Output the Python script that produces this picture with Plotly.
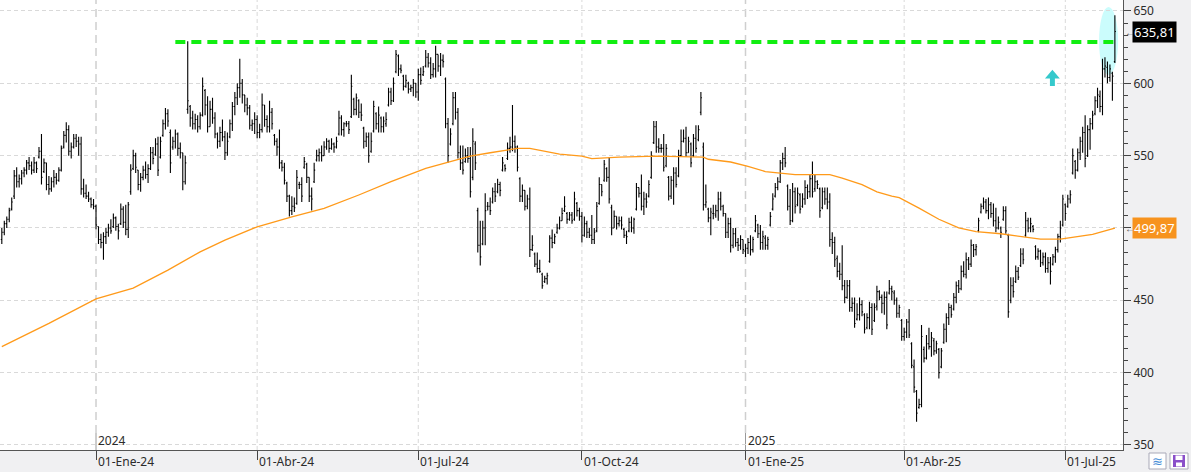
import pandas as pd
import plotly.graph_objects as go

# ---------------- data ----------------
start_date = "2023-11-08"   # first daily bar (business days)

highs = [
    500,505,508,514,521,540,542,537,540,542, 547,549,546,549,546,556,565,548,545,536,
    535,540,538,542,557,567,573,571,559,565, 565,563,563,534,530,525,521,520,516,501,
    496,497,500,503,506,510,508,503,517,515, 516,518,544,554,552,540,538,543,546,544,
    556,556,562,563,563,575,583,582,568,563, 568,566,559,552,550,629,585,581,579,578,
    580,604,596,591,588,590,580,566,570,575, 567,566,575,587,594,600,617,603,592,590,
    585,575,580,578,572,593,585,578,588,583, 565,562,568,547,545,532,523,522,521,540,
    532,535,549,545,535,528,545,554,555,557, 560,562,561,562,559,563,581,578,573,574,
    574,606,590,593,589,586,570,566,566,566, 588,580,584,577,577,580,597,597,604,623,
    620,613,606,606,601,599,603,600,610,611, 612,623,621,618,614,626,620,621,620,604,
    576,569,594,594,583,557,557,555,556,556, 569,560,514,505,505,524,518,521,528,531,
    534,532,549,544,559,563,585,564,557,535, 530,526,523,528,495,483,483,478,469,467,
    469,495,499,496,503,508,514,522,511,511, 511,525,518,514,511,508,505,500,509,500,
    518,535,530,547,542,549,516,512,508,508, 508,500,498,507,508,507,531,528,537,525,
    524,533,553,574,574,562,558,565,558,536, 536,542,542,554,568,568,570,563,559,565,
    571,571,594,559,530,514,514,516,516,525, 525,516,510,507,507,500,500,493,495,492,
    489,493,495,494,509,503,502,498,495,494, 511,524,531,535,547,552,556,530,527,531,
    528,528,524,524,533,530,537,546,537,533, 528,528,528,528,524,497,494,481,476,488,
    464,464,464,452,452,448,452,450,441,441, 449,448,448,460,457,454,456,456,464,460,
    457,452,447,437,431,437,444,421,409,388, 382,433,418,426,431,428,424,422,417,417,
    434,441,448,447,455,463,464,474,477,483, 480,492,489,489,507,517,521,520,521,518,
    517,514,508,501,515,515,496,466,466,474, 473,486,486,511,507,507,502,488,486,485,
    483,483,480,480,482,487,496,505,523,517, 523,526,555,547,555,563,570,578,571,576,
    581,591,597,595,617,618,615,613,608,647,
]

lows = [
    489,495,500,504,512,520,528,528,530,535, 537,540,537,538,538,548,530,538,526,523,
    525,528,530,532,539,555,559,550,548,555, 556,550,523,521,520,518,514,513,499,489,
    486,478,489,494,496,500,498,492,502,500, 495,493,523,540,538,526,525,533,534,531,
    540,544,550,536,548,563,568,570,538,554, 555,550,548,526,530,579,570,568,568,566,
    568,577,578,566,570,572,562,555,556,560, 547,550,562,567,578,585,590,586,580,578,
    568,567,565,562,562,566,570,566,566,568, 557,550,541,539,530,518,508,509,511,516,
    527,518,541,531,518,512,531,546,546,546, 550,554,552,554,552,555,564,564,563,570,
    565,576,578,578,576,574,555,556,545,552, 566,568,566,566,566,570,584,585,587,607,
    605,607,595,597,593,594,591,590,588,599, 605,611,611,603,604,604,608,605,611,569,
    545,557,571,575,548,540,537,545,545,521, 533,540,483,474,488,488,512,509,517,518,
    524,522,539,539,547,552,553,552,539,518, 518,512,513,480,484,473,469,469,458,462,
    461,476,486,489,496,499,505,511,503,505, 503,505,508,505,490,494,493,493,489,489,
    497,516,522,532,532,517,495,500,499,501, 499,493,489,497,497,496,512,521,512,509,
    514,521,534,558,552,552,552,539,542,519, 520,516,528,535,549,559,549,552,542,549,
    552,560,578,512,514,504,495,506,507,505, 512,508,493,493,483,486,487,484,485,482,
    480,482,481,483,497,493,485,485,485,485, 501,512,521,526,531,540,542,512,502,504,
    510,515,510,514,516,520,521,521,525,527, 507,513,516,513,487,482,473,466,464,457,
    448,451,442,442,431,436,436,439,427,430, 430,426,435,443,450,441,440,430,454,450,
    447,438,438,422,422,424,424,403,386,366, 375,376,407,409,416,411,412,413,396,403,
    420,421,433,438,443,448,455,457,466,465, 471,473,480,481,497,510,513,510,506,507,
    501,497,499,493,505,496,438,448,452,462, 464,473,475,494,497,497,497,478,478,473,
    474,469,469,461,474,476,483,490,501,505, 514,517,537,534,539,547,552,542,549,554,
    568,578,583,580,578,604,600,601,588,614,
]

opens = [
    492,497,503,506,513,522,536,532,534,538, 540,545,543,540,545,549,553,539,545,530,
    527,532,535,533,540,556,564,568,553,556, 562,560,558,527,524,522,520,516,515,501,
    492,490,494,497,500,501,507,501,503,513, 504,499,525,541,550,540,530,535,540,537,
    541,552,551,558,549,564,572,579,566,556, 560,565,555,552,532,582,584,576,572,575,
    570,578,595,585,570,582,576,565,560,566, 563,552,563,572,584,590,597,600,592,585,
    583,571,572,575,566,568,585,575,570,580, 564,560,556,545,542,531,522,512,515,517,
    530,530,542,544,535,522,532,547,550,552, 550,556,560,555,558,556,565,576,568,572,
    572,577,589,582,588,580,569,560,563,553, 567,579,572,576,570,572,585,594,588,608,
    619,610,605,598,600,596,597,600,594,606, 606,612,618,614,606,610,620,612,616,603,
    572,558,572,590,580,552,545,546,550,548, 535,558,512,488,489,500,515,515,518,525,
    525,530,540,543,548,555,556,560,556,534, 522,526,515,520,485,482,475,472,468,463,
    465,477,493,490,497,500,505,512,510,506, 509,506,517,512,508,495,503,497,495,492,
    498,517,530,533,541,535,514,500,508,503, 505,499,495,498,504,500,513,528,524,515,
    520,522,535,559,570,556,555,555,543,535, 522,533,538,536,550,560,562,552,558,550,
    562,561,580,556,516,513,507,510,509,512, 520,515,510,497,503,488,496,490,488,492,
    484,486,490,485,498,502,496,490,493,488, 502,513,522,528,532,545,548,529,515,505,
    525,516,523,515,520,528,525,534,527,532, 527,514,525,520,518,492,490,479,470,468,
    460,452,460,445,448,437,440,447,440,431, 438,445,436,446,456,452,448,452,455,458,
    455,450,441,436,425,428,435,420,404,387, 376,378,416,410,420,418,422,415,416,404,
    421,430,438,445,444,452,460,458,470,468, 478,475,488,485,498,511,515,518,512,516,
    510,505,500,500,506,512,495,450,460,463, 470,474,482,495,505,500,501,487,480,484,
    476,480,472,476,475,480,485,494,502,516, 515,520,538,546,540,552,560,566,550,568,
    572,579,588,591,584,610,611,604,607,615,
]

closes = [
    497,503,506,512,518,536,532,534,538,540, 545,543,540,545,541,553,535,545,530,527,
    532,535,533,540,555,564,568,553,556,562, 560,558,527,524,522,520,516,515,502,492,
    490,494,497,500,498,507,501,498,513,504, 499,516,540,550,542,530,535,540,537,541,
    552,548,558,540,560,572,579,574,545,560, 565,555,552,532,545,588,576,572,575,570,
    578,598,585,570,582,576,565,560,566,563, 552,560,572,584,590,597,600,592,585,583,
    571,572,575,566,568,585,575,570,580,572, 560,556,545,542,533,522,512,515,514,535,
    530,522,546,535,522,520,540,550,552,550, 556,560,555,558,556,560,576,568,572,572,
    568,598,582,590,580,578,560,563,550,560, 584,572,578,570,574,575,594,588,600,620,
    610,609,598,602,596,597,600,594,606,602, 608,618,614,606,610,620,612,616,615,572,
    550,565,590,580,552,545,540,550,548,525, 560,545,488,480,500,512,515,512,525,522,
    530,526,545,541,555,556,560,556,542,522, 526,515,520,485,488,475,472,470,460,465,
    467,493,490,494,500,505,510,515,506,509, 505,520,512,508,495,503,497,495,492,497,
    515,530,525,544,535,520,500,508,503,505, 502,495,494,504,500,506,528,524,515,520,
    518,530,550,570,556,555,555,542,555,522, 533,538,530,550,560,562,552,560,545,562,
    555,568,590,516,518,507,511,510,512,520, 515,510,497,503,488,496,490,488,492,485,
    486,490,485,492,505,496,490,494,488,492, 508,520,528,532,545,548,545,515,505,525,
    515,524,513,520,528,525,534,525,532,530, 512,525,520,518,492,490,478,470,468,460,
    452,460,445,448,434,440,447,442,430,438, 445,430,445,456,452,448,452,433,458,456,
    450,441,445,425,428,435,426,405,390,372, 378,425,410,420,418,424,415,420,400,415,
    430,438,445,440,452,460,458,470,468,478, 475,488,485,487,505,515,518,512,516,510,
    505,500,504,497,512,498,442,460,456,470, 466,482,478,505,500,503,499,480,484,476,
    480,472,476,470,480,485,494,500,520,510, 520,523,550,540,552,560,566,548,568,572,
    578,588,592,584,610,612,604,610,605,635.81,
]

# 200-session moving average, read at these bar numbers
ma_bar = [0, 19, 38, 53, 67, 80, 90, 103, 117, 130, 144, 157, 171, 183, 189, 197, 208,
          213, 220, 225, 234, 238, 249, 264, 283, 285, 294, 301, 308, 315, 320, 334, 339,
          347, 353, 359, 362, 370, 378, 386, 393, 403, 411, 419, 427, 432, 440, 449]
ma_value = [418, 434, 451, 458.4, 470.9, 483.5, 491.6, 500.8, 507.7, 513.5, 522.8, 532,
            541.2, 547, 549.7, 552, 555, 555, 552.5, 551, 549.6, 548, 549, 549.6, 549,
            547.5, 545.6, 542.6, 539, 537.7, 536.9, 536.9, 534.5, 530, 525, 522, 520.9,
            513.7, 506, 500, 497.4, 496, 494.4, 492.3, 492.3, 493.7, 495.6, 499.87]

resistance_level = 628.6
resistance_from = "2024-02-14"

quarter_dates = ["2024-01-01", "2024-04-01", "2024-07-01", "2024-10-01",
                 "2025-01-01", "2025-04-01", "2025-07-01"]
quarter_labels = ["01-Ene-24", "01-Abr-24", "01-Jul-24", "01-Oct-24",
                  "01-Ene-25", "01-Abr-25", "01-Jul-25"]
year_dates = ["2024-01-01", "2025-01-01"]
year_labels = ["2024", "2025"]
y_ticks = [350, 400, 450, 500, 550, 600, 650]

# ---------------- helpers ----------------
n = len(closes)
assert len(highs) == n and len(lows) == n and len(opens) == n, (len(highs), len(lows), len(opens), n)
dates = pd.bdate_range(start_date, periods=n)
bar = list(range(n))


def day(d):
    return int(dates.get_loc(pd.Timestamp(d)))


def fmt(v):
    return f"{v:.2f}".replace(".", ",")


W, H = 1191, 472
PLOT_W, PLOT_H = 1123, 450
x_lo = -0.73
x_hi = x_lo + PLOT_W / 2.479
y_lo, y_hi = 346.5, 657.6


def px(xp):      # paper x from pixel
    return xp / PLOT_W


def py(yp):      # paper y from pixel
    return (PLOT_H - yp) / PLOT_H


FONT = "Noto Sans, Open Sans, Arial, sans-serif"
TXT = "#2b2b2b"

fig = go.Figure()

fig.add_trace(go.Scatter(
    x=ma_bar, y=ma_value, mode="lines",
    line=dict(color="#ff9a1a", width=1.3),
    hoverinfo="skip", showlegend=False))

fig.add_trace(go.Ohlc(
    x=bar, open=opens, high=highs, low=lows, close=closes,
    increasing=dict(line=dict(color="#000000", width=1.1)),
    decreasing=dict(line=dict(color="#000000", width=1.1)),
    tickwidth=0.42, hoverinfo="skip", showlegend=False))

shapes = []
# quarterly vertical grid
for q in quarter_dates:
    if q in year_dates:
        continue
    shapes.append(dict(type="line", xref="x", yref="paper", x0=day(q), x1=day(q),
                       y0=0, y1=1, layer="below",
                       line=dict(color="#d9d9d9", width=1, dash="4px,3px")))
# year separators
for yd in year_dates:
    shapes.append(dict(type="line", xref="x", yref="paper", x0=day(yd), x1=day(yd),
                       y0=py(433), y1=1, layer="below",
                       line=dict(color="#cfcfcf", width=1.5, dash="8px,5px")))
    shapes.append(dict(type="line", xref="x", yref="paper", x0=day(yd), x1=day(yd),
                       y0=0, y1=py(433), layer="below",
                       line=dict(color="#9a9a9a", width=1)))

# highlight ellipse around the last sessions
shapes.append(dict(type="circle", xref="x", yref="y",
                   x0=n - 7.4, x1=n + 0.3, y0=605.8, y1=652.8, layer="below",
                   fillcolor="#cbfcfc", line=dict(width=0)))

# resistance line
shapes.append(dict(type="line", xref="x", yref="y",
                   x0=day(resistance_from), x1=n - 1.3,
                   y0=resistance_level, y1=resistance_level, layer="above",
                   line=dict(color="#11ee11", width=4, dash="10px,6px")))

# small up arrow
xc = day("2025-07-01") - 5.2
yt, yb, ys = 609.4, 603.3, 598.2
arrow_path = (f"M {xc-3.0},{yb} L {xc},{yt} L {xc+3.0},{yb} L {xc+1.0},{yb} "
              f"L {xc+1.0},{ys} L {xc-1.0},{ys} L {xc-1.0},{yb} Z")
shapes.append(dict(type="path", xref="x", yref="y", path=arrow_path,
                   fillcolor="#35c9cc", line=dict(width=0), layer="above"))

# bottom-right toolbar icons
shapes.append(dict(type="rect", xref="paper", yref="paper",
                   x0=px(1149), x1=px(1166), y0=py(469), y1=py(453),
                   fillcolor="#ffffff", line=dict(color="#a9a9b8", width=1)))
shapes.append(dict(type="rect", xref="paper", yref="paper",
                   x0=px(1170), x1=px(1188), y0=py(469), y1=py(453),
                   fillcolor="#ffffff", line=dict(color="#a9a9b8", width=1)))
shapes.append(dict(type="rect", xref="paper", yref="paper",
                   x0=px(1173), x1=px(1185), y0=py(467), y1=py(455),
                   fillcolor="#8a4fc9", line=dict(width=0)))
shapes.append(dict(type="rect", xref="paper", yref="paper",
                   x0=px(1175.5), x1=px(1182.5), y0=py(460), y1=py(455.5),
                   fillcolor="#ffffff", line=dict(width=0)))
shapes.append(dict(type="rect", xref="paper", yref="paper",
                   x0=px(1176), x1=px(1182), y0=py(466.5), y1=py(462.5),
                   fillcolor="#ffffff", line=dict(width=0)))

annotations = []
for q, lab in zip(quarter_dates, quarter_labels):
    annotations.append(dict(x=day(q), xref="x", y=py(461), yref="paper",
                            xanchor="left", yanchor="middle", xshift=0,
                            text=lab, showarrow=False,
                            font=dict(family=FONT, size=12, color=TXT)))
for yd, lab in zip(year_dates, year_labels):
    annotations.append(dict(x=day(yd), xref="x", y=py(440), yref="paper",
                            xanchor="left", yanchor="middle", xshift=0,
                            text=lab, showarrow=False,
                            font=dict(family=FONT, size=12, color=TXT)))

last_close = closes[-1]
last_ma = ma_value[-1]
for val, bg in [(last_close, "#000000"), (last_ma, "#f7931e")]:
    annotations.append(dict(x=1, xref="paper", y=val, yref="y", xanchor="left",
                            yanchor="middle", xshift=0, text="←", showarrow=False,
                            font=dict(family=FONT, size=10, color="#555555")))
    annotations.append(dict(x=1, xref="paper", y=val, yref="y", xanchor="left",
                            yanchor="middle", xshift=9, text=fmt(val), showarrow=False,
                            bgcolor=bg, borderpad=1,
                            font=dict(family=FONT, size=13, color="#ffffff")))

annotations.append(dict(x=px(1157.5), xref="paper", y=py(461), yref="paper",
                        xanchor="center", yanchor="middle", text="≋", showarrow=False,
                        font=dict(family="DejaVu Sans", size=13, color="#4a8fd8")))

# the 500 label is hidden behind the moving-average price box in the reference
y_ticktext = ["" if v == 500 else str(v) for v in y_ticks]

fig.update_layout(
    width=W, height=H,
    margin=dict(l=0, r=W - PLOT_W, t=0, b=H - PLOT_H, pad=0),
    paper_bgcolor="#f0f0f2",
    plot_bgcolor="#ffffff",
    font=dict(family=FONT, size=12, color=TXT),
    showlegend=False,
    shapes=shapes,
    annotations=annotations,
    xaxis=dict(
        range=[x_lo, x_hi], rangeslider=dict(visible=False),
        showgrid=False, zeroline=False,
        tickvals=[day(q) for q in quarter_dates], ticktext=[""] * len(quarter_dates),
        ticks="outside", ticklen=9, tickcolor="#444444", tickwidth=1,
        showline=True, linecolor="#555555", linewidth=1,
        fixedrange=True,
    ),
    yaxis=dict(
        side="right", range=[y_lo, y_hi],
        tickvals=y_ticks, ticktext=y_ticktext,
        ticks="outside", ticklen=7, tickcolor="#444444", tickwidth=1,
        showline=True, linecolor="#555555", linewidth=1,
        showgrid=True, gridcolor="#d9d9d9", gridwidth=1, griddash="4px,3px",
        zeroline=False,
        minor=dict(tick0=350, dtick=50 / 6, ticks="outside", ticklen=4,
                   tickcolor="#444444", showgrid=False),
        tickfont=dict(family=FONT, size=12, color=TXT),
        fixedrange=True,
    ),
)

fig.write_html("out.html")
